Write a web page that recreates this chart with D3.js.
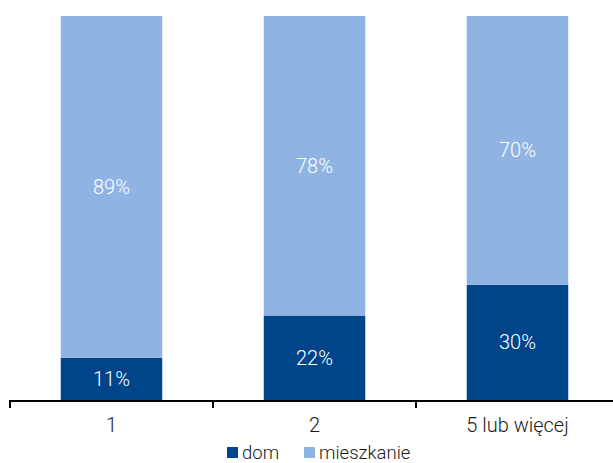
<!DOCTYPE html>
<html>
<head>
<meta charset="utf-8">
<script src="https://cdn.jsdelivr.net/npm/d3@7"></script>
<style>
  html, body { margin: 0; padding: 0; background: #fff; }
  svg { display: block; }
  text { font-family: Roboto, "DejaVu Sans Condensed", sans-serif; font-weight: 300; }
</style>
</head>
<body>
<svg id="chart" width="613" height="463"></svg>
<script>
// Share of houses vs. flats by category
const categories = ["1", "2", "5 lub więcej"];
const seriesNames = ["dom", "mieszkanie"];
const domValues = [11, 22, 30];
const mieszkanieValues = [89, 78, 70];
const seriesColors = ["#00458a", "#8fb4e3"];

const svg = d3.select("#chart");

const rows = categories.map((c, i) => ({ cat: c, dom: domValues[i], mieszkanie: mieszkanieValues[i] }));
const stacked = d3.stack().keys(seriesNames)(rows);

const x = d3.scaleBand().domain(categories).range([10, 619]).paddingInner(0.5).paddingOuter(0.25);
const y = d3.scaleLinear().domain([0, 100]).range([400, 16]);
const color = d3.scaleOrdinal().domain(seriesNames).range(seriesColors);

// bars
const layer = svg.append("g").selectAll("g").data(stacked).join("g")
  .attr("fill", d => color(d.key));
layer.selectAll("rect").data(d => d).join("rect")
  .attr("x", d => x(d.data.cat))
  .attr("width", x.bandwidth())
  .attr("y", d => y(d[1]))
  .attr("height", d => y(d[0]) - y(d[1]));

// value labels inside segments
layer.selectAll("text").data(d => d.map(v => ({ v, key: d.key }))).join("text")
  .attr("x", d => x(d.v.data.cat) + x.bandwidth() / 2)
  .attr("y", d => (y(d.v[0]) + y(d.v[1])) / 2)
  .attr("dy", "0.35em")
  .attr("text-anchor", "middle")
  .attr("fill", "#fff")
  .attr("font-size", 20)
  .text(d => d.v.data[d.key] + "%");

// category axis with ticks at band boundaries
const boundaries = d3.range(categories.length + 1).map(i => 10 + i * x.step());
const axisG = svg.append("g");
axisG.append("line")
  .attr("x1", 9).attr("x2", 613).attr("y1", 401).attr("y2", 401)
  .attr("stroke", "#000").attr("stroke-width", 2);
axisG.selectAll("line.tick").data(boundaries).join("line")
  .attr("class", "tick")
  .attr("x1", d => d).attr("x2", d => d)
  .attr("y1", 401).attr("y2", 408)
  .attr("stroke", "#000").attr("stroke-width", 2);
axisG.selectAll("text").data(categories).join("text")
  .attr("x", d => x(d) + x.bandwidth() / 2)
  .attr("y", 425)
  .attr("dy", "0.35em")
  .attr("text-anchor", "middle")
  .attr("fill", "#1a1a1a")
  .attr("font-size", 20)
  .text(d => d);

// legend
const legendX = [227, 304];
const legend = svg.append("g").selectAll("g").data(seriesNames).join("g")
  .attr("transform", (d, i) => `translate(${legendX[i]},447)`);
legend.append("rect").attr("width", 11).attr("height", 11).attr("fill", d => color(d));
legend.append("text")
  .attr("x", 15).attr("y", 5.5).attr("dy", "0.35em")
  .attr("fill", "#1a1a1a").attr("font-size", 18.5)
  .text(d => d);
</script>
</body>
</html>
